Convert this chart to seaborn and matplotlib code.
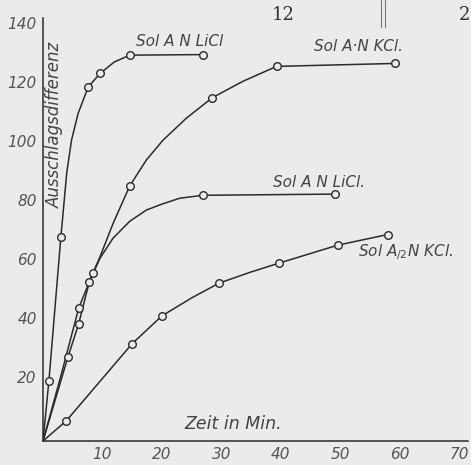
import numpy as np
import pandas as pd
import matplotlib
matplotlib.use("Agg")
import matplotlib.pyplot as plt
import matplotlib.transforms as mtransforms
import seaborn as sns

# ---- data ----
# curve 1: Sol A N LiCl (steep)
c1_x = [0, 1, 3, 4, 4.8, 5.9, 7.6, 9.6, 12, 14.6, 27]
c1_y = [0, 20.5, 69, 91, 102, 111, 120, 124.6, 128.5, 130.8, 131]
m1_x = [1, 3, 7.6, 9.6, 14.6, 27]
m1_y = [20.5, 69, 120, 124.6, 130.8, 131]

# curve 2: Sol A N KCl
c2_x = [0, 3, 6, 8.4, 9.6, 11.8, 14.6, 17.4, 20.2, 24.1, 28.5, 33.7, 39.3, 59.3]
c2_y = [0, 22, 45, 57, 62.5, 73.8, 86.5, 95.3, 102, 109.4, 116.4, 122, 127, 128]
m2_x = [6, 8.4, 14.6, 28.5, 39.3, 59.3]
m2_y = [45, 57, 86.5, 116.4, 127, 128]

# curve 3: Sol A N LiCl (middle)
c3_x = [0, 4.2, 6, 7.8, 9.6, 11.8, 14.6, 17.4, 20, 23, 26.9, 49.2]
c3_y = [0, 28.5, 39.7, 54, 62, 68.8, 74.5, 78.3, 80.3, 82.3, 83.3, 83.7]
m3_x = [4.2, 6, 7.8, 26.9, 49.2]
m3_y = [28.5, 39.7, 54, 83.3, 83.7]

# curve 4: Sol A/2 N KCl
c4_x = [0, 3.9, 15, 20, 25, 29.6, 35, 39.7, 49.6, 58]
c4_y = [0, 6.8, 33, 42.4, 48.5, 53.5, 57.3, 60.3, 66.4, 70]
m4_x = [3.9, 15, 20, 29.6, 39.7, 49.6, 58]
m4_y = [6.8, 33, 42.4, 53.5, 60.3, 66.4, 70]

x_ticks = [10, 20, 30, 40, 50, 60, 70]
y_ticks = [20, 40, 60, 80, 100, 120, 140]

labels = ["Sol A N LiCl", "Sol A·N KCl.", "Sol A N LiCl.", "Sol A$_{/2}$N KCl."]

# ---- frames ----
curves = pd.concat([
    pd.DataFrame({"x": c1_x, "y": c1_y, "s": "c1"}),
    pd.DataFrame({"x": c2_x, "y": c2_y, "s": "c2"}),
    pd.DataFrame({"x": c3_x, "y": c3_y, "s": "c3"}),
    pd.DataFrame({"x": c4_x, "y": c4_y, "s": "c4"}),
])
marks = pd.concat([
    pd.DataFrame({"x": m1_x, "y": m1_y, "s": "c1"}),
    pd.DataFrame({"x": m2_x, "y": m2_y, "s": "c2"}),
    pd.DataFrame({"x": m3_x, "y": m3_y, "s": "c3"}),
    pd.DataFrame({"x": m4_x, "y": m4_y, "s": "c4"}),
])

BG = "#ebebe9"
INK = "#2b2b2b"

sns.set_style("white")
plt.rcParams["font.family"] = ["DejaVu Sans"]

fig = plt.figure(figsize=(4.71, 4.65), dpi=100, facecolor=BG)
ax = fig.add_axes([43 / 471, 24 / 465, 425 / 471, 423 / 465])
ax.set_facecolor(BG)

pal = {k: INK for k in ["c1", "c2", "c3", "c4"]}
sns.lineplot(data=curves, x="x", y="y", hue="s", palette=pal, sort=False,
             estimator=None, legend=False, linewidth=1.1, ax=ax)
sns.scatterplot(data=marks, x="x", y="y", hue="s", palette=pal, legend=False,
                s=30, marker="o", linewidth=1.0, ax=ax, zorder=3)
for c in ax.collections:
    c.set_facecolor(BG)
    c.set_edgecolor(INK)

ax.set_xlim(0, 71.5)
ax.set_ylim(0, 143.4)
ax.set_xlabel("")
ax.set_ylabel("")
for sp in ["top", "right"]:
    ax.spines[sp].set_visible(False)
for sp in ["left", "bottom"]:
    ax.spines[sp].set_color(INK)
    ax.spines[sp].set_linewidth(1.1)

ax.set_xticks(x_ticks)
ax.set_xticklabels([str(v) for v in x_ticks])
ax.set_yticks(y_ticks)
ax.set_yticklabels([str(v) for v in y_ticks])
ax.tick_params(axis="both", direction="inout", length=5, width=0.9,
               colors=INK, labelsize=11, pad=2)
for lab in ax.get_xticklabels() + ax.get_yticklabels():
    lab.set_fontstyle("italic")
    lab.set_color("#555555")
off = mtransforms.ScaledTranslation(0, 5 / 100, fig.dpi_scale_trans)
for lab in ax.get_yticklabels():
    lab.set_transform(lab.get_transform() + off)

tk = dict(color="#444444", fontstyle="italic", fontsize=11, ha="center", va="center")
ax.text(23, 135.6, labels[0], **tk)
ax.text(53, 133.6, labels[1], **tk)
ax.text(46.5, 87.8, labels[2], **tk)
ax.text(61, 64, labels[3], **tk)
ax.text(2.0, 107, "Ausschlagsdifferenz", rotation=90, **{**tk, "fontsize": 12})
ax.text(32, 5.6, "Zeit in Min.", **{**tk, "fontsize": 12.5})

fig.text(283 / 471, 1 - 15 / 465, "12", family="DejaVu Serif", fontsize=13,
         color="#333333", ha="center", va="center")
fig.text(470 / 471, 1 - 15 / 465, "2", family="DejaVu Serif", fontsize=13,
         color="#333333", ha="right", va="center")
for xx in (381, 385):
    fig.add_artist(plt.Line2D([xx / 471, xx / 471], [1, 1 - 27 / 465],
                              color="#777777", linewidth=0.8))

fig.savefig("out.png", dpi=100, facecolor=BG)
